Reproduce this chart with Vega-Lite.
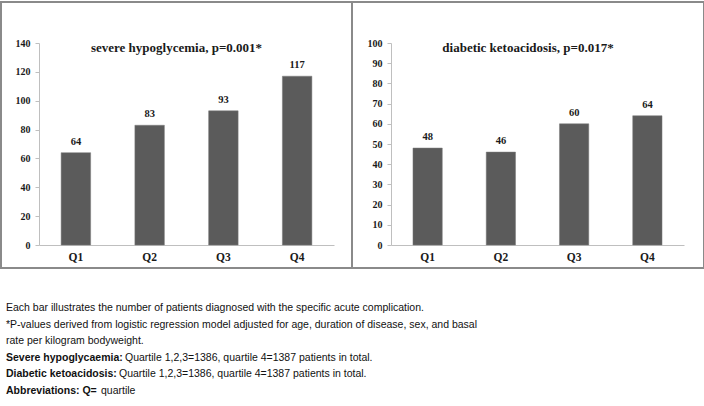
{
  "$schema": "https://vega.github.io/schema/vega-lite/v6.json",
  "padding": {"left": 0, "top": 1, "right": 0, "bottom": 0},
  "background": "white",
  "spacing": 0,
  "config": {
    "view": {"stroke": "#8a8a8a", "strokeWidth": 2},
    "concat": {"spacing": 0},
    "axis": {
      "labelFont": "Liberation Serif",
      "labelFontWeight": "bold",
      "labelColor": "#1a1a1a",
      "domainColor": "#bfbfbf",
      "tickColor": "#bfbfbf",
      "grid": false,
      "title": null
    },
    "title": {
      "font": "Liberation Serif",
      "fontSize": 13,
      "fontWeight": "bold",
      "color": "#1a1a1a",
      "anchor": "middle",
      "frame": "group"
    }
  },
  "datasets": {
    "hypo": [
      {"quartile": "Q1", "count": 64},
      {"quartile": "Q2", "count": 83},
      {"quartile": "Q3", "count": 93},
      {"quartile": "Q4", "count": 117}
    ],
    "dka": [
      {"quartile": "Q1", "count": 48},
      {"quartile": "Q2", "count": 46},
      {"quartile": "Q3", "count": 60},
      {"quartile": "Q4", "count": 64}
    ],
    "caption": [
      {"line": 1, "part": "regular", "text": "Each bar illustrates the number of patients diagnosed with the specific acute complication."},
      {"line": 2, "part": "regular", "text": "*P-values derived from logistic regression model adjusted for age, duration of disease, sex, and basal"},
      {"line": 3, "part": "regular", "text": "rate per kilogram bodyweight."},
      {"line": 4, "part": "bold", "text": "Severe hypoglycaemia:"},
      {"line": 4, "part": "regular", "text": "Quartile 1,2,3=1386, quartile 4=1387 patients in total."},
      {"line": 5, "part": "bold", "text": "Diabetic ketoacidosis:"},
      {"line": 5, "part": "regular", "text": "Quartile 1,2,3=1386, quartile 4=1387 patients in total."},
      {"line": 6, "part": "bold", "text": "Abbreviations: Q="},
      {"line": 6, "part": "regular", "text": "quartile"}
    ]
  },
  "vconcat": [
    {
      "spacing": 0,
      "bounds": "flush",
      "hconcat": [
        {
          "width": 351,
          "height": 266,
          "title": {"text": "severe hypoglycemia, p=0.001*", "offset": -53},
          "data": {"name": "hypo"},
          "encoding": {
            "x": {
              "field": "quartile", "type": "nominal", "sort": null,
              "scale": {"range": [38, 333], "paddingInner": 0.6, "paddingOuter": 0.3},
              "axis": {"offset": -23, "labelAngle": 0, "ticks": false, "labelFontSize": 11.5, "labelPadding": 6}
            },
            "y": {
              "field": "count", "type": "quantitative",
              "scale": {"domain": [0, 140], "range": [243, 41], "nice": false},
              "axis": {"offset": -38, "values": [0, 20, 40, 60, 80, 100, 120, 140], "tickSize": 4, "labelFontSize": 10, "labelPadding": 5}
            }
          },
          "layer": [
            {"mark": {"type": "bar", "color": "#5b5b5b", "stroke": "#7a7a7a", "strokeWidth": 0.5}},
            {
              "mark": {"type": "text", "baseline": "bottom", "dy": -6, "font": "Liberation Serif", "fontWeight": "bold", "fontSize": 10.5, "color": "#1a1a1a"},
              "encoding": {"text": {"field": "count"}}
            }
          ]
        },
        {
          "width": 352,
          "height": 266,
          "title": {"text": "diabetic ketoacidosis, p=0.017*", "offset": -53},
          "data": {"name": "dka"},
          "encoding": {
            "x": {
              "field": "quartile", "type": "nominal", "sort": null,
              "scale": {"range": [39, 332], "paddingInner": 0.6, "paddingOuter": 0.3},
              "axis": {"offset": -23, "labelAngle": 0, "ticks": false, "labelFontSize": 11.5, "labelPadding": 6}
            },
            "y": {
              "field": "count", "type": "quantitative",
              "scale": {"domain": [0, 100], "range": [243, 41], "nice": false},
              "axis": {"offset": -39, "values": [0, 10, 20, 30, 40, 50, 60, 70, 80, 90, 100], "tickSize": 4, "labelFontSize": 10, "labelPadding": 5}
            }
          },
          "layer": [
            {"mark": {"type": "bar", "color": "#5b5b5b", "stroke": "#7a7a7a", "strokeWidth": 0.5}},
            {
              "mark": {"type": "text", "baseline": "bottom", "dy": -6, "font": "Liberation Serif", "fontWeight": "bold", "fontSize": 10.5, "color": "#1a1a1a"},
              "encoding": {"text": {"field": "count"}}
            }
          ]
        }
      ]
    },
    {
      "width": 704,
      "height": 137,
      "view": {"stroke": null},
      "data": {"name": "caption"},
      "encoding": {
        "x": {"datum": 0, "type": "quantitative", "scale": {"domain": [0, 1], "range": [5, 704]}, "axis": null},
        "y": {"field": "line", "type": "quantitative", "scale": {"domain": [1, 6], "range": [39, 122]}, "axis": null},
        "text": {"field": "text"}
      },
      "layer": [
        {
          "transform": [{"filter": "datum.part === 'bold'"}],
          "mark": {"type": "text", "align": "left", "baseline": "middle", "font": "Liberation Sans", "fontSize": 10.5, "fontWeight": "bold", "color": "#111111"}
        },
        {
          "transform": [{"filter": "datum.part === 'regular' && datum.line <= 3"}],
          "mark": {"type": "text", "align": "left", "baseline": "middle", "font": "Liberation Sans", "fontSize": 10.5, "color": "#111111"}
        },
        {
          "transform": [{"filter": "datum.part === 'regular' && datum.line === 4"}],
          "mark": {"type": "text", "align": "left", "baseline": "middle", "dx": 119, "font": "Liberation Sans", "fontSize": 10.5, "color": "#111111"}
        },
        {
          "transform": [{"filter": "datum.part === 'regular' && datum.line === 5"}],
          "mark": {"type": "text", "align": "left", "baseline": "middle", "dx": 113, "font": "Liberation Sans", "fontSize": 10.5, "color": "#111111"}
        },
        {
          "transform": [{"filter": "datum.part === 'regular' && datum.line === 6"}],
          "mark": {"type": "text", "align": "left", "baseline": "middle", "dx": 95, "font": "Liberation Sans", "fontSize": 10.5, "color": "#111111"}
        }
      ]
    }
  ]
}
